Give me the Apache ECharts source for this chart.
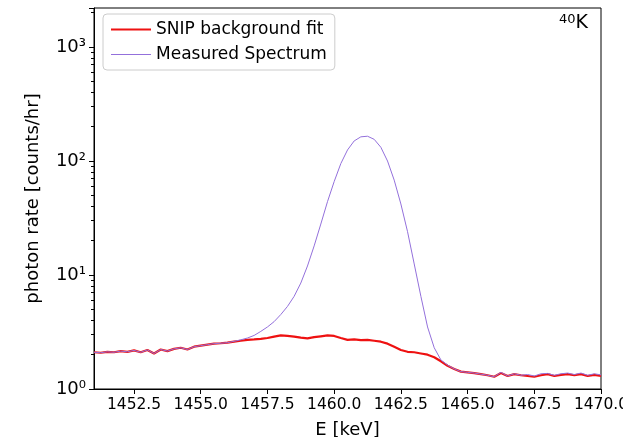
<!DOCTYPE html>
<html>
<head>
<meta charset="utf-8">
<script src="https://cdn.jsdelivr.net/npm/echarts@6/dist/echarts.min.js"></script>
<style>html,body{margin:0;padding:0;background:#fff}#main{width:623px;height:437px}</style>
</head>
<body>
<div id="main"></div>
<script>
var energy = [1451.00,1451.25,1451.50,1451.75,1452.00,1452.25,1452.50,1452.75,1453.00,1453.25,1453.50,1453.75,
  1454.00,1454.25,1454.50,1454.75,1455.00,1455.25,1455.50,1455.75,1456.00,1456.25,1456.50,1456.75,
  1457.00,1457.25,1457.50,1457.75,1458.00,1458.25,1458.50,1458.75,1459.00,1459.25,1459.50,1459.75,
  1460.00,1460.25,1460.50,1460.75,1461.00,1461.25,1461.50,1461.75,1462.00,1462.25,1462.50,1462.75,
  1463.00,1463.25,1463.50,1463.75,1464.00,1464.25,1464.50,1464.75,1465.00,1465.25,1465.50,1465.75,
  1466.00,1466.25,1466.50,1466.75,1467.00,1467.25,1467.50,1467.75,1468.00,1468.25,1468.50,1468.75,
  1469.00,1469.25,1469.50,1469.75,1470.00];
var background = [2.1,2.08,2.12,2.1,2.15,2.12,2.18,2.1,2.2,2.05,2.22,2.15,
  2.25,2.3,2.22,2.35,2.4,2.45,2.5,2.52,2.55,2.6,2.65,2.7,
  2.72,2.75,2.8,2.88,2.95,2.92,2.88,2.82,2.78,2.85,2.9,2.95,
  2.92,2.8,2.7,2.72,2.68,2.7,2.65,2.6,2.5,2.35,2.2,2.12,
  2.1,2.05,2.0,1.9,1.75,1.6,1.5,1.42,1.4,1.38,1.35,1.32,
  1.28,1.38,1.3,1.35,1.32,1.3,1.28,1.32,1.35,1.3,1.33,1.35,
  1.32,1.35,1.3,1.33,1.3];
var measured = [2.1,2.08,2.12,2.1,2.15,2.12,2.18,2.1,2.2,2.05,2.22,2.15,
  2.25,2.3,2.22,2.35,2.4,2.45,2.5,2.52,2.55,2.62,2.7,2.8,
  2.95,3.2,3.5,3.9,4.5,5.3,6.5,8.5,12,18,28,44,
  66,95,125,150,163,165,155,132,100,68,42,24,
  12.5,6.5,3.5,2.3,1.8,1.62,1.5,1.42,1.4,1.38,1.35,1.32,
  1.28,1.4,1.3,1.36,1.32,1.34,1.3,1.36,1.37,1.32,1.36,1.38,
  1.34,1.38,1.32,1.36,1.33];
var xTicks = [1452.5, 1455.0, 1457.5, 1460.0, 1462.5, 1465.0, 1467.5, 1470.0];
var sup = {'0':'⁰','1':'¹','2':'²','3':'³'};

var chart = echarts.init(document.getElementById('main'));
var font = 'DejaVu Sans';
chart.setOption({
  animation: false,
  textStyle: {fontFamily: font},
  grid: {left: 94, right: 22, top: 8, bottom: 48, outerBoundsMode: 'none',
    show: true, borderColor: '#000', borderWidth: 1},
  title: {
    text: '{s|40}K', right: 30, top: 8,
    textStyle: {fontSize: 19, fontWeight: 'normal', color: '#000', fontFamily: font,
      rich: {s: {fontSize: 13, verticalAlign: 'top', padding: [0, 0, 8, 0], fontFamily: font}}}
  },
  legend: {
    left: 103, top: 14, orient: 'vertical', itemGap: 8, itemWidth: 40, itemHeight: 10,
    padding: [7, 8, 7, 8], borderColor: '#ccc', borderWidth: 1, borderRadius: 4,
    textStyle: {fontSize: 17, color: '#000', fontFamily: font},
    data: [{name: 'SNIP background fit', icon: 'path://M0,4h40v2h-40z'},
           {name: 'Measured Spectrum', icon: 'path://M0,4.5h40v1h-40z'}]
  },
  xAxis: {
    type: 'value', min: 1451, max: 1470,
    name: 'E [keV]', nameLocation: 'middle', nameGap: 32,
    nameTextStyle: {fontSize: 18, color: '#000'},
    axisLine: {onZero: false, lineStyle: {color: '#000'}},
    axisTick: {length: 5, lineStyle: {color: '#000'}, customValues: xTicks},
    axisLabel: {fontSize: 15.5, color: '#000', customValues: xTicks, hideOverlap: false,
      formatter: function (v) { return v.toFixed(1); }},
    splitLine: {show: false}
  },
  yAxis: {
    type: 'log', logBase: 10, min: 1, max: 2200,
    name: 'photon rate [counts/hr]', nameLocation: 'middle', nameGap: 52,
    nameTextStyle: {fontSize: 18, color: '#000'},
    axisLine: {show: true, lineStyle: {color: '#000'}},
    axisTick: {length: 5, lineStyle: {color: '#000'}},
    minorTick: {show: true, splitNumber: 9, length: 3, lineStyle: {color: '#000'}},
    axisLabel: {fontSize: 18, color: '#000', showMaxLabel: false,
      formatter: function (v) {
        var e = Math.round(Math.log10(v));
        return '10' + sup[String(e)];
      }},
    splitLine: {show: false}
  },
  series: [
    {name: 'SNIP background fit', type: 'line', showSymbol: false, color: '#ee1111',
      lineStyle: {width: 2.2}, z: 3,
      data: energy.map(function (e, i) { return [e, background[i]]; })},
    {name: 'Measured Spectrum', type: 'line', showSymbol: false, color: '#9370DB',
      lineStyle: {width: 1}, z: 4,
      data: energy.map(function (e, i) { return [e, measured[i]]; })}
  ]
});
</script>
</body>
</html>
